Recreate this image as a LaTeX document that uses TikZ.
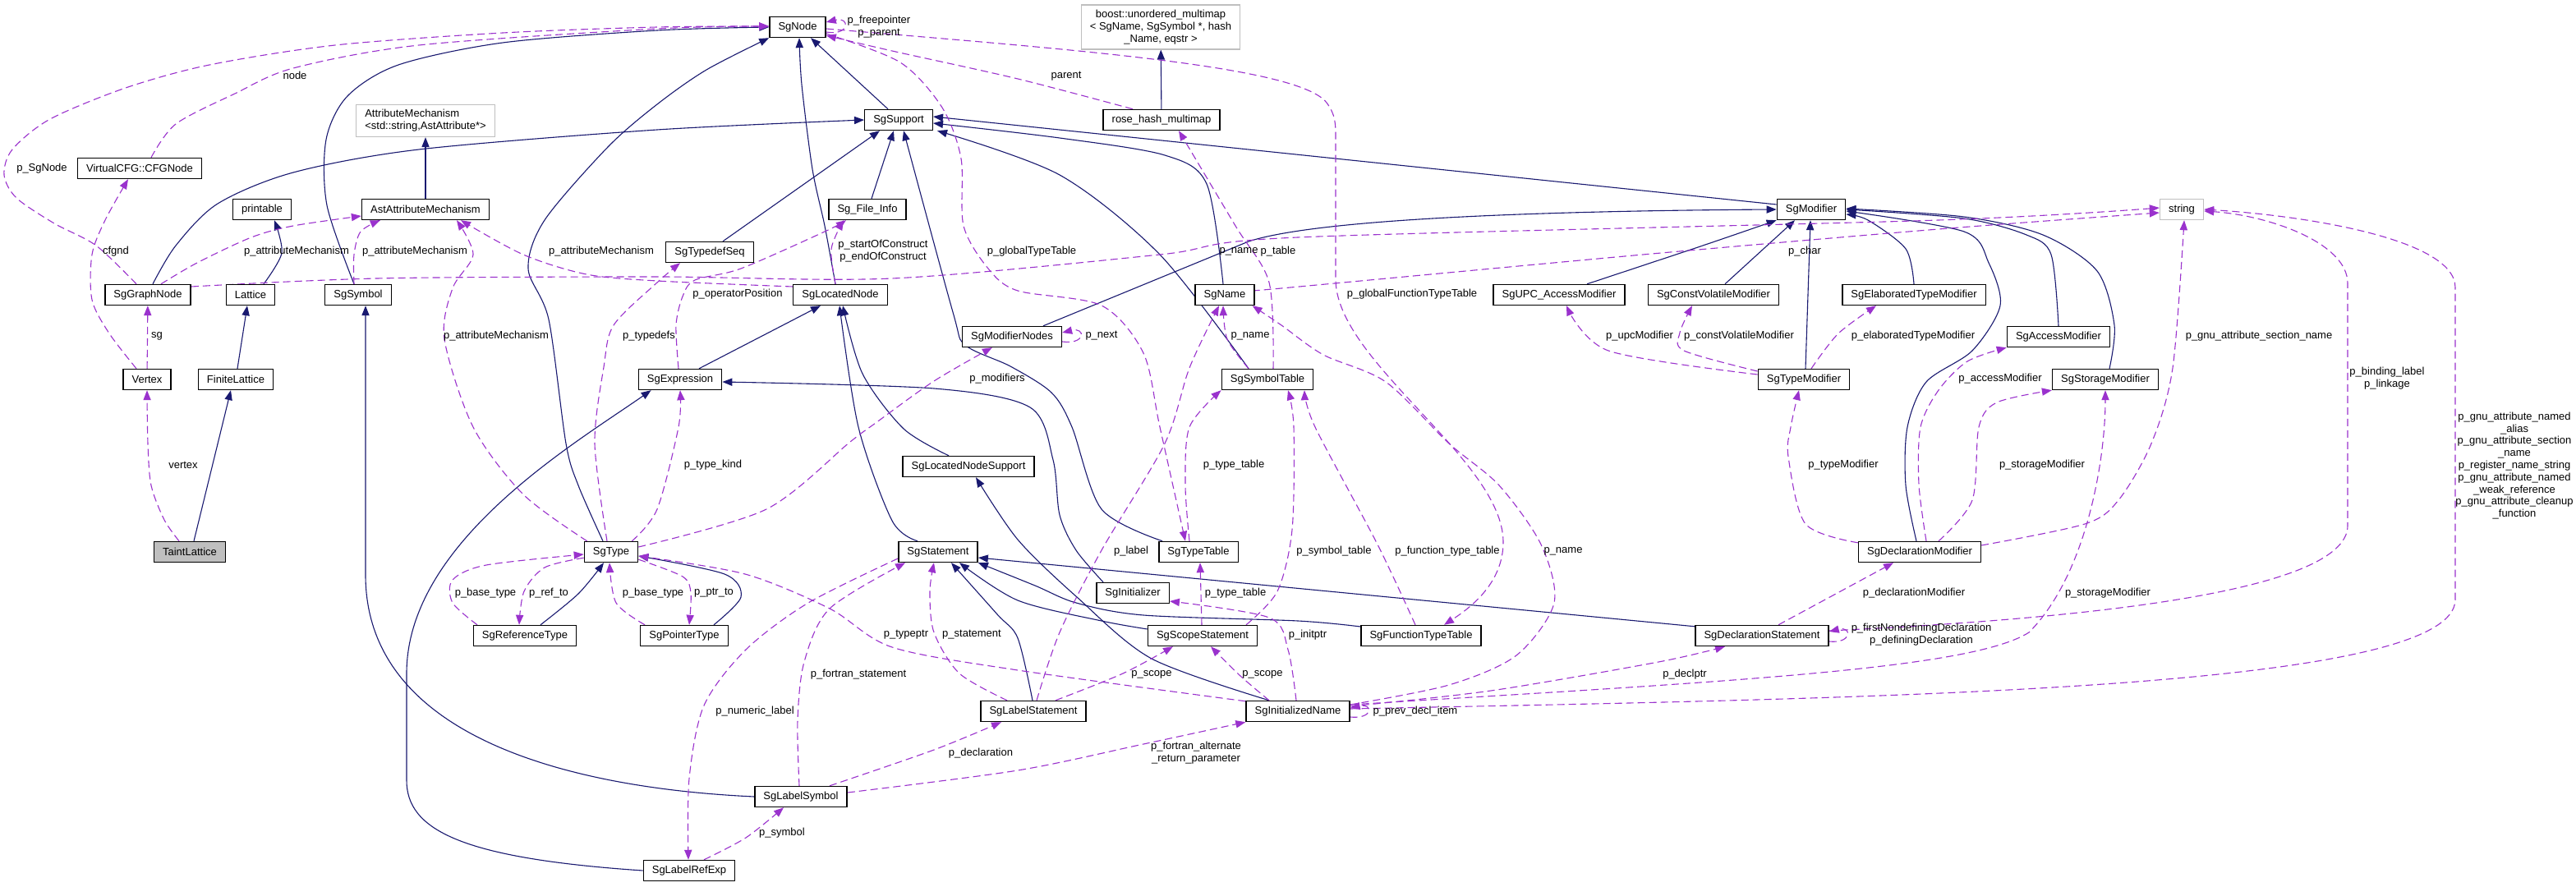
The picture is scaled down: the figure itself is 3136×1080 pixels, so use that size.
\documentclass[tikz,border=0pt]{standalone}
\usepackage{fontspec}
\setmainfont{Liberation Sans}
\usetikzlibrary{arrows.meta,calc}
\definecolor{navy}{HTML}{191970}
\definecolor{purp}{HTML}{9A32CD}
\definecolor{extgray}{HTML}{BFBFBF}
\newcommand{\dgfont}{\fontsize{6.5}{7.4}\selectfont}
\pgfdeclarelayer{bg}
\pgfdeclarelayer{back}
\pgfsetlayers{back,bg,main}
\begin{document}
\begin{tikzpicture}[x=0.5pt,y=-0.5pt,
  box/.style={draw=black, line width=0.7pt, fill=white, font=\dgfont, inner xsep=5.3pt, inner ysep=1pt, minimum height=12.5pt},
  extbox/.style={box, draw=extgray},
  inh/.style={draw=navy, line width=0.55pt, -{Triangle[length=6pt,width=4.6pt]}},
  use/.style={draw=purp, line width=0.55pt, dash pattern=on 4.5pt off 2.5pt, -{Triangle[length=6pt,width=4.6pt]}},
  elab/.style={font=\dgfont, align=center, inner sep=0.5pt}]
\begin{pgfonlayer}{back}
\path[fill=white] (0,0) rectangle (3136,1080);
\end{pgfonlayer}
\useasboundingbox (0,0) rectangle (3136,1080);

% ---------- nodes ----------
\node[box] (SgNode) at (971,33) {SgNode};
\node[extbox, align=center, inner ysep=3pt] (boost) at (1413,33) {boost::unordered\_multimap\\< SgName, SgSymbol *, hash\\\_Name, eqstr >};
\node[box] (SgSupport) at (1094,146) {SgSupport};
\node[box] (rose) at (1414,146) {rose\_hash\_multimap};
\node[extbox, align=left, inner ysep=3pt] (AttrMech) at (518,147) {AttributeMechanism\\<std::string,AstAttribute*>};
\node[box] (CFGNode) at (170,205) {VirtualCFG::CFGNode};
\node[box] (printable) at (319,255) {printable};
\node[box] (AstAttr) at (518,255) {AstAttributeMechanism};
\node[box] (FileInfo) at (1056,255) {Sg\_File\_Info};
\node[box] (SgModifier) at (2205,255) {SgModifier};
\node[extbox] (string) at (2656,255) {string};
\node[box] (TypedefSeq) at (864,307) {SgTypedefSeq};
\node[box] (GraphNode) at (180,359) {SgGraphNode};
\node[box] (Lattice) at (305,359) {Lattice};
\node[box] (SgSymbol) at (436,359) {SgSymbol};
\node[box] (LocatedNode) at (1023,359) {SgLocatedNode};
\node[box] (SgName) at (1491,359) {SgName};
\node[box] (UPC) at (1898,359) {SgUPC\_AccessModifier};
\node[box] (CV) at (2086,359) {SgConstVolatileModifier};
\node[box] (Elab) at (2330,359) {SgElaboratedTypeModifier};
\node[box] (ModNodes) at (1232,410) {SgModifierNodes};
\node[box] (Access) at (2506,410) {SgAccessModifier};
\node[box] (Vertex) at (179,462) {Vertex};
\node[box] (Finite) at (287,462) {FiniteLattice};
\node[box] (Expr) at (828,462) {SgExpression};
\node[box] (SymTab) at (1543,462) {SgSymbolTable};
\node[box] (TypeMod) at (2196,462) {SgTypeModifier};
\node[box] (Storage) at (2563,462) {SgStorageModifier};
\node[box] (LNSupport) at (1179,568) {SgLocatedNodeSupport};
\node[box, fill=extgray] (Taint) at (231,672) {TaintLattice};
\node[box] (SgType) at (744,672) {SgType};
\node[box] (Stmt) at (1142,672) {SgStatement};
\node[box] (TypeTable) at (1459,672) {SgTypeTable};
\node[box] (DeclMod) at (2337,672) {SgDeclarationModifier};
\node[box] (Initializer) at (1379,722) {SgInitializer};
\node[box] (RefType) at (639,774) {SgReferenceType};
\node[box] (PtrType) at (833,774) {SgPointerType};
\node[box] (Scope) at (1464,774) {SgScopeStatement};
\node[box] (FTT) at (1730,774) {SgFunctionTypeTable};
\node[box] (DeclStmt) at (2145,774) {SgDeclarationStatement};
\node[box] (LabelStmt) at (1258,866) {SgLabelStatement};
\node[box] (InitName) at (1580,866) {SgInitializedName};
\node[box] (LabelSym) at (975,970) {SgLabelSymbol};
\node[box] (LabelRef) at (839,1060) {SgLabelRefExp};

% ---------- edge labels ----------
\node[elab] (l01) at (359,92) {node};
\node[elab] (l02) at (51,205) {p\_SgNode};
\node[elab] (l03) at (141,306) {cfgnd};
\node[elab] (l04) at (191,409) {sg};
\node[elab] (l05) at (223,566) {vertex};
\node[elab] (l06) at (361,306) {p\_attributeMechanism};
\node[elab] (l07) at (505,306) {p\_attributeMechanism};
\node[elab] (l08) at (604,409) {p\_attributeMechanism};
\node[elab] (l09) at (732,306) {p\_attributeMechanism};
\node[elab] (l10) at (1508,306) {p\_name};
\node[elab] (l11) at (2197,306) {p\_char};
\node[elab] (l12) at (2750,409) {p\_gnu\_attribute\_section\_name};
\node[elab] (l13) at (2906,461) {p\_binding\_label\\p\_linkage};
\node[elab] (l14) at (3061,567) {p\_gnu\_attribute\_named\\\_alias\\p\_gnu\_attribute\_section\\\_name\\p\_register\_name\_string\\p\_gnu\_attribute\_named\\\_weak\_reference\\p\_gnu\_attribute\_cleanup\\\_function};
\node[elab] (l15) at (2566,722) {p\_storageModifier};
\node[elab] (l16) at (2486,566) {p\_storageModifier};
\node[elab] (l17) at (2435,461) {p\_accessModifier};
\node[elab] (l18) at (2244,566) {p\_typeModifier};
\node[elab] (l19) at (2330,722) {p\_declarationModifier};
\node[elab] (l20) at (1996,409) {p\_upcModifier};
\node[elab] (l21) at (2117,409) {p\_constVolatileModifier};
\node[elab] (l22) at (2329,409) {p\_elaboratedTypeModifier};
\node[elab] (l23) at (1070,33) {p\_freepointer\\p\_parent};
\node[elab] (l24) at (1256,306) {p\_globalTypeTable};
\node[elab] (l25) at (1719,358) {p\_globalFunctionTypeTable};
\node[elab] (l26) at (1556,306) {p\_table};
\node[elab] (l27) at (1522,409) {p\_name};
\node[elab] (l28) at (1341,409) {p\_next};
\node[elab] (l29) at (1214,461) {p\_modifiers};
\node[elab] (l30) at (790,409) {p\_typedefs};
\node[elab] (l31) at (868,566) {p\_type\_kind};
\node[elab] (l32) at (898,358) {p\_operatorPosition};
\node[elab] (l33) at (1075,306) {p\_startOfConstruct\\p\_endOfConstruct};
\node[elab] (l34) at (1502,566) {p\_type\_table};
\node[elab] (l35) at (1624,671) {p\_symbol\_table};
\node[elab] (l36) at (1762,671) {p\_function\_type\_table};
\node[elab] (l37) at (1903,671) {p\_name};
\node[elab] (l38) at (1377,671) {p\_label};
\node[elab] (l39) at (1183,773) {p\_statement};
\node[elab] (l40) at (1402,821) {p\_scope};
\node[elab] (l41) at (1537,821) {p\_scope};
\node[elab] (l42) at (1592,773) {p\_initptr};
\node[elab] (l43) at (1103,773) {p\_typeptr};
\node[elab] (l44) at (1045,821) {p\_fortran\_statement};
\node[elab] (l45) at (919,866) {p\_numeric\_label};
\node[elab] (l46) at (952,1014) {p\_symbol};
\node[elab] (l47) at (1194,917) {p\_declaration};
\node[elab] (l48) at (1456,917) {p\_fortran\_alternate\\\_return\_parameter};
\node[elab] (l49) at (1723,866) {p\_prev\_decl\_item};
\node[elab] (l50) at (2051,821) {p\_declptr};
\node[elab] (l51) at (2339,773) {p\_firstNondefiningDeclaration\\p\_definingDeclaration};
\node[elab] (l52) at (591,722) {p\_base\_type};
\node[elab] (l53) at (668,722) {p\_ref\_to};
\node[elab] (l54) at (795,722) {p\_base\_type};
\node[elab] (l55) at (869,722) {p\_ptr\_to};
\node[elab] (l56) at (1504,722) {p\_type\_table};
\node[elab] (l57) at (1298,93) {parent};

\begin{pgfonlayer}{bg}
% ---------- inheritance ----------
\draw[inh] ($(SgSupport.north)+(-13,0)$) -- ($(SgNode.south)+(16,0)$);
\draw[inh] plot[smooth,tension=0.5] coordinates {($(LocatedNode.north)+(-6,0)$) (1004,275) (989,206) (976,103) ($(SgNode.south)+(2,0)$)};
\draw[inh] plot[smooth,tension=0.5] coordinates {($(SgSymbol.north)+(-5,0)$) (398,250) (397,170) (423,117) (485,79) (612,52) (800,37) (SgNode.west)};
\draw[inh] plot[smooth,tension=0.5] coordinates {($(SgType.north)+(-10,0)$) (704,591) (689,540) (668,389) (643,327) (663,268) (740,179) (800,127) (860,85) (SgNode.south west)};
\draw[inh] plot[smooth,tension=0.5] coordinates {($(GraphNode.north)+(6,0)$) (214,299) (265,248) (357,210) (510,182) (800,158) (SgSupport.west)};
\draw[inh] (AstAttr) -- (AttrMech);
\draw[inh] plot[smooth,tension=0.5] coordinates {($(Lattice.north)+(16,0)$) (343,308) ($(printable.south)+(15,0)$)};
\draw[inh] ($(Finite.north)+(2,0)$) -- ($(Lattice.south)+(-4,0)$);
\draw[inh] ($(Taint.north)+(5,0)$) -- ($(Finite.south)+(-6,0)$);
\draw[inh] ($(TypedefSeq.north)+(16,0)$) -- ($(SgSupport.south)+(-23,0)$);
\draw[inh] ($(FileInfo.north)+(5,0)$) -- ($(SgSupport.south)+(-6,0)$);
\draw[inh] ($(ModNodes.north)+(38,0)$) -- (1520,294) .. controls (1600,268) and (1850,257) .. (SgModifier.west);
\draw[inh] ($(SgModifier.west)+(0,-6)$) -- ($(SgSupport.east)+(0,-4)$);
\draw[inh] plot[smooth,tension=0.5] coordinates {($(SgName.north)+(-2,0)$) (1469,224) (1418,189) (1290,168) ($(SgSupport.east)+(0,4)$)};
\draw[inh] plot[smooth,tension=0.5] coordinates {($(SymTab.north)+(-23,0)$) (1412,310) (1290,213) ($(SgSupport.south east)+(5,0)$)};
\draw[inh] plot[smooth,tension=0.5] coordinates {($(TypeTable.north west)+(5,0)$) (1341,620) (1305,520) (1280,478) (1230,446) (1175,420) (1160,380) ($(SgSupport.south)+(6,0)$)};
\draw[inh] plot[smooth,tension=0.5] coordinates {($(Initializer.north)+(-36,0)$) (1310,670) (1290,627) (1282,560) (1254,496) (1137,473) ($(Expr.east)+(0,3)$)};
\draw[inh] plot[smooth,tension=0.5] coordinates {($(FTT.west)+(0,-11)$) (1580,756) (1392,749) (1310,734) (1260,713) (Stmt.south east)};
\draw[inh] ($(DeclStmt.north west)+(0,2)$) -- ($(Stmt.east)+(0,7)$);
\draw[inh] plot[smooth,tension=0.5] coordinates {($(Scope.west)+(0,-8)$) (1341,756) (1239,731) ($(Stmt.south)+(26,0)$)};
\draw[inh] plot[smooth,tension=0.5] coordinates {($(LabelStmt.north)+(-1,0)$) (1239,777) (1214,748) ($(Stmt.south)+(16,0)$)};
\draw[inh] plot[smooth,tension=0.5] coordinates {($(Stmt.north)+(-25,0)$) (1086,634) (1045,520) ($(LocatedNode.south)+(-1,0)$)};
\draw[inh] ($(Expr.north)+(23,0)$) -- ($(LocatedNode.south)+(-24,0)$);
\draw[inh] plot[smooth,tension=0.5] coordinates {($(LNSupport.north)+(-24,0)$) (1100,522) (1050,455) ($(LocatedNode.south)+(3,0)$)};
\draw[inh] plot[smooth,tension=0.5] coordinates {($(InitName.north)+(-35,0)$) (1402,802) (1311,727) (1239,657) ($(LNSupport.south)+(9,0)$)};
\draw[inh] plot[smooth,tension=0.5] coordinates {($(PtrType.north)+(36,0)$) (902,727) (882,699) ($(SgType.east)+(0,5)$)};
\draw[inh] plot[smooth,tension=0.5] coordinates {($(RefType.north)+(19,0)$) (704,723) ($(SgType.south)+(-9,0)$)};
\draw[inh] (rose) -- (boost);
\draw[inh] (LabelSym.west) .. controls (700,960) and (445,900) .. (445,700) -- ($(SgSymbol.south)+(9,0)$);
\draw[inh] (LabelRef.west) .. controls (560,1045) and (495,1010) .. (495,950) -- (495,820) .. controls (495,660) and (700,540) .. ($(Expr.south west)+(16,0)$);
\draw[inh] plot[smooth,tension=0.5] coordinates {($(UPC.north)+(34,0)$) (2070,300) (SgModifier.south west)};
\draw[inh] ($(CV.north)+(14,0)$) -- ($(SgModifier.south)+(-20,0)$);
\draw[inh] ($(TypeMod.north)+(2,0)$) -- ($(SgModifier.south)+(-1,0)$);
\draw[inh] plot[smooth,tension=0.5] coordinates {(Elab.north) (2320,303) (2274,268) ($(SgModifier.east)+(0,6)$)};
\draw[inh] plot[smooth,tension=0.5] coordinates {($(DeclMod.north)+(-4,0)$) (2320,591) (2322,520) (2345,465) (2401,427) (2435,372) (2421,320) (2391,282) ($(SgModifier.east)+(0,2)$)};
\draw[inh] plot[smooth,tension=0.5] coordinates {(Access.north) (2497,310) (2467,286) (2391,266) (SgModifier.east)};
\draw[inh] plot[smooth,tension=0.5] coordinates {($(Storage.north)+(5,0)$) (2574,396) (2553,330) (2487,286) (2391,264) ($(SgModifier.east)+(0,-1)$)};

% ---------- usage ----------
\draw[use] plot[smooth,tension=0.5] coordinates {($(CFGNode.north)+(14,0)$) (214,151) (286,114) (357,83) (510,55) (800,35) ($(SgNode.west)+(0,-1)$)};
\draw[use] plot[smooth,tension=0.5] coordinates {($(GraphNode.north)+(-14,0)$) (117,299) (66,272) (20,241) (5,213) (15,182) (61,145) (153,107) (255,79) (408,55) (612,40) (800,33) ($(SgNode.west)+(0,-1)$)};
\draw[use] plot[smooth,tension=0.5] coordinates {($(Vertex.north)+(-13,0)$) (133,406) (112,365) (112,310) (128,268) ($(CFGNode.south)+(-14,0)$)};
\draw[use] (Vertex) -- (GraphNode);
\draw[use] plot[smooth,tension=0.5] coordinates {($(Taint.north)+(-13,0)$) (200,633) (184,591) (180,540) (Vertex.south)};
\draw[use] plot[smooth,tension=0.5] coordinates {($(GraphNode.north)+(16,0)$) (240,320) (306,289) (357,275) ($(AstAttr.west)+(0,8)$)};
\draw[use] plot[smooth,tension=0.5] coordinates {($(SgSymbol.north)+(-5,0)$) (431,310) (439,282) ($(AstAttr.south west)+(23,0)$)};
\draw[use] plot[smooth,tension=0.5] coordinates {($(SgType.north west)+(4,0)$) (637,602) (576,520) (541,413) (551,351) (576,310) ($(AstAttr.south)+(38,0)$)};
\draw[use] plot[smooth,tension=0.5] coordinates {($(LocatedNode.west)+(0,-10)$) (800,342) (714,334) (637,310) ($(AstAttr.south)+(43,0)$)};
\draw[use] plot[smooth,tension=0.5] coordinates {($(GraphNode.east)+(0,-10)$) (459,339) (800,337) (1086,339) (1412,310) (1580,289) (2360,268) ($(string.west)+(0,-2)$)};
\draw[use] plot[smooth,tension=0.5] coordinates {($(SgName.east)+(0,-6)$) (1560,351) (2000,310) (2360,279) ($(string.west)+(0,4)$)};
\draw[use] plot[smooth,tension=0.5] coordinates {($(DeclMod.east)+(0,-8)$) (2538,638) (2579,609) (2619,540) (2645,448) ($(string.south)+(3,0)$)};
\draw[use] ($(DeclStmt.east)+(0,-6)$) .. controls (2500,755) and (2858,725) .. (2858,640) -- (2858,345) .. controls (2858,295) and (2760,262) .. ($(string.east)+(0,2)$);
\draw[use] ($(InitName.east)+(0,-3)$) .. controls (2300,850) and (2989,840) .. (2989,730) -- (2989,350) .. controls (2989,290) and (2800,262) .. (string.east);
\draw[use] ($(InitName.east)+(0,-8)$) .. controls (2100,830) and (2400,815) .. (2470,770) .. controls (2540,700) and (2563,560) .. (Storage.south);
\draw[use] plot[smooth,tension=0.5] coordinates {($(DeclMod.north)+(23,0)$) (2401,609) (2409,520) (2431,490) (Storage.south west)};
\draw[use] plot[smooth,tension=0.5] coordinates {($(DeclMod.north)+(8,0)$) (2336,590) (2338,520) (2360,475) (2395,440) (Access.south west)};
\draw[use] plot[smooth,tension=0.5] coordinates {($(DeclMod.north west)+(0,2)$) (2198,638) (2177,556) (2180,520) ($(TypeMod.south)+(-6,0)$)};
\draw[use] ($(DeclStmt.north)+(20,0)$) -- ($(DeclMod.south)+(-32,0)$);
\draw[use] plot[smooth,tension=0.5] coordinates {($(TypeMod.west)+(0,-6)$) (1958,427) ($(UPC.south)+(9,0)$)};
\draw[use] plot[smooth,tension=0.5] coordinates {($(TypeMod.west)+(0,-10)$) (2050,427) (2045,405) ($(CV.south)+(-26,0)$)};
\draw[use] plot[smooth,tension=0.5] coordinates {($(TypeMod.north)+(9,0)$) (2238,406) ($(Elab.south)+(-46,0)$)};
\draw[use] ($(SgNode.east)+(0,6)$) .. controls (1035,44) and (1035,20) .. ($(SgNode.east)+(0,-6)$);
\draw[use] plot[smooth,tension=0.5] coordinates {($(SgNode.east)+(0,8)$) (1096,76) (1147,131) (1170,193) (1173,275) (1203,327) (1239,354) (1341,372) (1392,430) (1412,520) ($(TypeTable.north)+(-16,0)$)};
\draw[use] ($(SgNode.east)+(0,2)$) .. controls (1300,60) and (1580,80) .. (1615,125) .. controls (1626,140) and (1626,150) .. (1626,170) -- (1626,340) .. controls (1626,440) and (1830,560) .. (1830,660) .. controls (1830,710) and (1790,740) .. ($(FTT.north)+(28,0)$);
\draw[use] plot[smooth,tension=0.5] coordinates {($(SymTab.north)+(7,0)$) (1545,344) (1504,275) ($(rose.south)+(21,0)$)};
\draw[use] plot[smooth,tension=0.5] coordinates {($(SymTab.north)+(-23,0)$) (1494,413) ($(SgName.south)+(-2,0)$)};
\draw[use] ($(ModNodes.east)+(0,6)$) .. controls (1322,420) and (1322,398) .. ($(ModNodes.east)+(0,-5)$);
\draw[use] plot[smooth,tension=0.5] coordinates {($(SgType.east)+(0,-6)$) (933,620) (1035,538) (1066,515) (1137,464) ($(ModNodes.south west)+(37,0)$)};
\draw[use] plot[smooth,tension=0.5] coordinates {($(SgType.north)+(-5,0)$) (724,540) (735,447) (747,396) (800,344) ($(TypedefSeq.south)+(-36,0)$)};
\draw[use] plot[smooth,tension=0.5] coordinates {($(SgType.north east)+(-8,0)$) (800,620) (826,520) (Expr.south)};
\draw[use] plot[smooth,tension=0.5] coordinates {($(Expr.north)+(-2,0)$) (823,396) (831,361) (846,341) (902,327) (1004,282) ($(FileInfo.south)+(-26,0)$)};
\draw[use] plot[smooth,tension=0.5] coordinates {($(LocatedNode.north)+(-6,0)$) (1012,303) ($(FileInfo.south)+(-29,0)$)};
\draw[use] plot[smooth,tension=0.5] coordinates {($(TypeTable.north)+(-11,0)$) (1443,591) (1448,520) (SymTab.south west)};
\draw[use] plot[smooth,tension=0.5] coordinates {($(Scope.north)+(53,0)$) (1555,720) (1573,645) (1575,520) ($(SymTab.south)+(25,0)$)};
\draw[use] plot[smooth,tension=0.5] coordinates {($(FTT.north)+(-7,0)$) (1677,663) (1601,520) ($(SymTab.south)+(45,0)$)};
\draw[use] plot[smooth,tension=0.5] coordinates {($(InitName.east)+(0,-8)$) (1764,834) (1846,798) (1892,734) (1876,663) (1825,591) (1764,540) (1687,465) (1611,432) (1560,396) ($(SgName.south east)+(-3,0)$)};
\draw[use] plot[smooth,tension=0.5] coordinates {($(LabelStmt.north)+(4,0)$) (1290,770) (1341,670) (1418,540) (1448,448) ($(SgName.south)+(-7,0)$)};
\draw[use] plot[smooth,tension=0.5] coordinates {($(LabelStmt.north)+(-32,0)$) (1168,820) (1137,770) (1132,720) ($(Stmt.south)+(-5,0)$)};
\draw[use] plot[smooth,tension=0.5] coordinates {($(LabelStmt.north)+(27,0)$) (1367,820) ($(Scope.south)+(-36,0)$)};
\draw[use] plot[smooth,tension=0.5] coordinates {($(InitName.north)+(-35,0)$) (1510,823) ($(Scope.south)+(10,0)$)};
\draw[use] plot[smooth,tension=0.5] coordinates {($(InitName.north)+(-2,0)$) (1568,791) (1545,752) ($(Initializer.east)+(0,10)$)};
\draw[use] plot[smooth,tension=0.5] coordinates {($(InitName.north west)+(0,1)$) (1239,816) (1086,788) (1010,741) (907,699) ($(SgType.east)+(0,5)$)};
\draw[use] plot[smooth,tension=0.5] coordinates {($(LabelSym.north)+(-2,0)$) (971,877) (979,806) (1010,741) ($(Stmt.south west)+(9,0)$)};
\draw[use] plot[smooth,tension=0.5] coordinates {($(Stmt.west)+(0,8)$) (984,734) (908,791) (857,859) (839,948) ($(LabelRef.north)+(-1,0)$)};
\draw[use] plot[smooth,tension=0.5] coordinates {($(LabelRef.north)+(18,0)$) (908,1020) ($(LabelSym.south)+(-21,0)$)};
\draw[use] plot[smooth,tension=0.5] coordinates {($(LabelSym.north)+(35,0)$) (1137,913) ($(LabelStmt.south)+(-39,0)$)};
\draw[use] plot[smooth,tension=0.5] coordinates {($(LabelSym.east)+(0,-5)$) (1239,938) (1392,906) (InitName.south west)};
\draw[use] ($(InitName.east)+(0,7)$) .. controls (1672,876) and (1672,856) .. ($(InitName.east)+(0,-4)$);
\draw[use] plot[smooth,tension=0.5] coordinates {($(InitName.east)+(0,-6)$) (1815,841) (2019,806) ($(DeclStmt.south)+(-45,0)$)};
\draw[use] ($(DeclStmt.east)+(0,7)$) .. controls (2255,784) and (2255,762) .. ($(DeclStmt.east)+(0,-5)$);
\draw[use] plot[smooth,tension=0.5] coordinates {($(RefType.north)+(-58,0)$) (551,734) (551,706) (592,688) ($(SgType.west)+(0,3)$)};
\draw[use] plot[smooth,tension=0.5] coordinates {($(SgType.south west)+(0,-6)$) (663,691) (638,720) ($(RefType.north)+(-7,0)$)};
\draw[use] plot[smooth,tension=0.5] coordinates {($(PtrType.north west)+(6,0)$) (750,734) ($(SgType.south)+(-2,0)$)};
\draw[use] plot[smooth,tension=0.5] coordinates {($(SgType.south east)+(0,-4)$) (831,702) (841,722) ($(PtrType.north)+(6,0)$)};
\draw[use] ($(Scope.north)+(-1,0)$) -- ($(TypeTable.south)+(2,0)$);
\draw[use] plot[smooth,tension=0.5] coordinates {($(rose.north)+(-35,0)$) (1239,96) (1086,62) ($(SgNode.south east)+(0,-3)$)};
\end{pgfonlayer}
\end{tikzpicture}
\end{document}
